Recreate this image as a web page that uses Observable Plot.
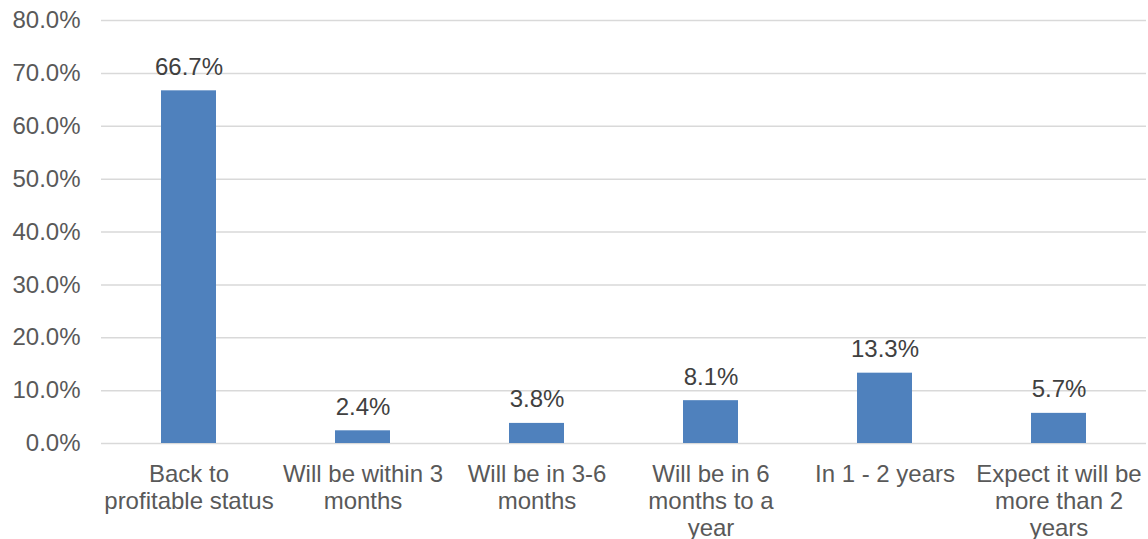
<!DOCTYPE html>
<html>
<head>
<meta charset="utf-8">
<script src="https://cdn.jsdelivr.net/npm/d3@7"></script>
<script src="https://cdn.jsdelivr.net/npm/@observablehq/plot@0.6"></script>
<style>
  html, body { margin: 0; padding: 0; background: #fff; }
  #chart svg { display: block; }
</style>
</head>
<body>
<div id="chart"></div>
<script>
const categories = [
  "Back to\nprofitable status",
  "Will be within 3\nmonths",
  "Will be in 3-6\nmonths",
  "Will be in 6\nmonths to a\nyear",
  "In 1 - 2 years",
  "Expect it will be\nmore than 2\nyears"
];
const values = [66.7, 2.4, 3.8, 8.1, 13.3, 5.7];
const yTicks = [0, 10, 20, 30, 40, 50, 60, 70, 80];

const data = categories.map((c, i) => ({category: c, value: values[i]}));
const fmt = v => v.toFixed(1) + "%";

const chart = Plot.plot({
  width: 1148,
  height: 539,
  marginLeft: 101,
  marginRight: 2,
  marginTop: 20,
  marginBottom: 96,
  style: {fontFamily: "'Liberation Sans', Arial, sans-serif", fontSize: "24px", color: "#595959", background: "#fff"},
  x: {domain: categories, paddingInner: 0.685, paddingOuter: 0.3425, label: null},
  y: {domain: [0, 80], label: null},
  marks: [
    Plot.ruleY(yTicks, {stroke: "#d9d9d9", strokeWidth: 1.5}),
    Plot.barY(data, {x: "category", y: "value", fill: "#4f81bd"}),
    Plot.text(data, {x: "category", y: "value", text: d => fmt(d.value), lineAnchor: "bottom", dy: -16, fontSize: 24, fill: "#404040"}),
    Plot.axisY(yTicks, {tickSize: 0, tickPadding: 21, tickFormat: fmt, fontSize: 24, fill: "#595959", label: null}),
    Plot.axisX({tickSize: 0, tickPadding: 20, fontSize: 24, fill: "#595959", lineHeight: 1.11, label: null, textOverflow: null})
  ]
});
document.getElementById("chart").appendChild(chart);
</script>
</body>
</html>
